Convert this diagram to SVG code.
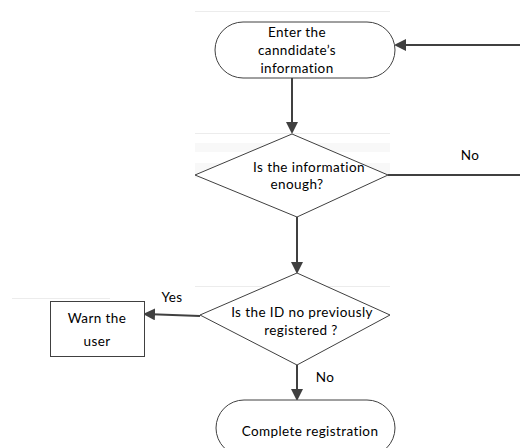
<svg xmlns="http://www.w3.org/2000/svg" width="520" height="448" viewBox="0 0 520 448">
  <style>
    .shape { fill: #ffffff; stroke: #404040; stroke-width: 1; }
    .conn { fill: none; stroke: #404040; stroke-width: 2; }
    .faint { stroke: #ececec; stroke-width: 1; }
    text { font-family: Lato, "Open Sans", "Liberation Sans", sans-serif; font-size: 13.5px; letter-spacing: 0.4px; fill: #000000; text-anchor: middle; }
  </style>
  <defs>
    <marker id="arrow" markerWidth="6" markerHeight="6" refX="5" refY="3" orient="auto" markerUnits="strokeWidth">
      <path d="M0,0 L6,3 L0,6 Z" fill="#404040"/>
    </marker>
  </defs>
  <rect width="520" height="448" fill="#ffffff"/>

  <!-- light ruling lines behind the chart -->
  <g id="background">
    <line class="faint" x1="195" y1="11.5" x2="390" y2="11.5"/>
    <line class="faint" x1="195" y1="133.5" x2="390" y2="133.5"/>
    <rect x="195" y="143" width="195" height="9" fill="#f8f8f8"/>
    <rect x="195" y="163" width="195" height="15" fill="#f8f8f8"/>
    <line class="faint" x1="12" y1="298.5" x2="110" y2="298.5"/>
    <line class="faint" x1="195" y1="286.5" x2="390" y2="286.5"/>
  </g>

  <g id="connectors">
    <line class="conn" x1="292" y1="78" x2="292" y2="132" marker-end="url(#arrow)"/>
    <line class="conn" x1="388" y1="175" x2="520" y2="175"/>
    <line class="conn" x1="520" y1="45" x2="396" y2="45" marker-end="url(#arrow)"/>
    <line class="conn" x1="297" y1="217" x2="297" y2="272" marker-end="url(#arrow)"/>
    <line class="conn" x1="200" y1="316" x2="145" y2="314" stroke-width="1.3" marker-end="url(#arrow)"/>
    <line class="conn" x1="297" y1="365" x2="297" y2="399" marker-end="url(#arrow)"/>
    <text x="470" y="160">No</text>
    <text x="172" y="302">Yes</text>
    <text x="325" y="382">No</text>
  </g>

  <g id="enter-info">
    <rect class="shape" x="215" y="22" width="180" height="56" rx="28" ry="28"/>
    <text x="297" y="37">Enter the</text>
    <text x="297" y="55">canndidate’s</text>
    <text x="297" y="73">information</text>
  </g>

  <g id="info-enough">
    <polygon class="shape" points="292,134 388,175 297,217 195,175"/>
    <text x="309" y="172">Is the information</text>
    <text x="297" y="189">enough?</text>
  </g>

  <g id="id-registered">
    <polygon class="shape" points="297,273 390,315 297,365 200,315"/>
    <text x="302" y="317">Is the ID no previously</text>
    <text x="301" y="335">registered ?</text>
  </g>

  <g id="warn-user">
    <rect class="shape" x="50.5" y="301.5" width="94" height="55"/>
    <text x="97" y="323">Warn the</text>
    <text x="97" y="346">user</text>
  </g>

  <g id="complete">
    <rect class="shape" x="216" y="400" width="179" height="56" rx="28" ry="28"/>
    <text x="310" y="436">Complete registration</text>
  </g>
</svg>
